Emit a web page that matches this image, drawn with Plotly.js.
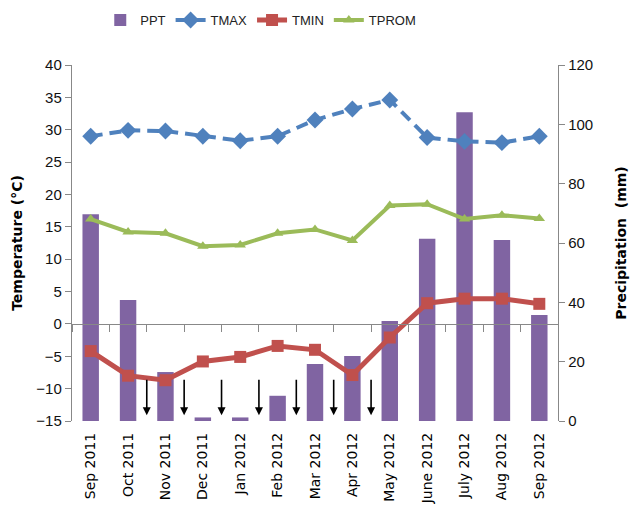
<!DOCTYPE html>
<html>
<head>
<meta charset="utf-8">
<script src="https://cdn.plot.ly/plotly-3.0.1.min.js"></script>
<style>html,body{margin:0;padding:0;background:#fff;}#chart{width:636px;height:526px;}</style>
</head>
<body>
<div id="chart"></div>
<script>
const months = ["Sep 2011","Oct 2011","Nov 2011","Dec 2011","Jan 2012","Feb 2012","Mar 2012","Apr 2012","May 2012","June 2012","July 2012","Aug 2012","Sep 2012"];
const ppt   = [69.7, 40.8, 16.5, 1.2, 1.2, 8.5, 19.2, 21.9, 33.7, 61.4, 104.1, 61.0, 35.7];
const tmax  = [29.0, 29.9, 29.8, 29.0, 28.3, 29.0, 31.5, 33.2, 34.6, 28.8, 28.2, 28.0, 29.0];
const tmin  = [-4.2, -8.0, -8.7, -5.8, -5.1, -3.4, -4.0, -7.9, -2.1, 3.2, 3.9, 3.9, 3.1];
const tprom = [16.2, 14.2, 14.0, 12.0, 12.2, 14.0, 14.6, 12.9, 18.3, 18.5, 16.2, 16.8, 16.3];
// frost arrows: positions between months (category index), start and end temperatures
const arrowX = [1.5, 2.5, 3.5, 4.5, 5.5, 6.5, 7.5];
const arrowTop = -8.4;
const arrowTip = -14.1;

const narrow = '"Liberation Sans Narrow", "Arial Narrow", "Liberation Sans", Arial, sans-serif';

const traces = [
  {type:'bar', name:'PPT', x:months, y:ppt, xaxis:'x', yaxis:'y',
   marker:{color:'#8064A2'}},
  {type:'scatter', mode:'lines+markers', name:'TMAX', x:months, y:tmax, xaxis:'x2', yaxis:'y2',
   line:{color:'#4F81BD', width:4, dash:'12px,7px'}, marker:{symbol:'diamond', size:13, color:'#4F81BD'}},
  {type:'scatter', mode:'lines+markers', name:'TMIN', x:months, y:tmin, xaxis:'x2', yaxis:'y2',
   line:{color:'#C0504D', width:5}, marker:{symbol:'square', size:12, color:'#C0504D'}},
  {type:'scatter', mode:'lines+markers', name:'TPROM', x:months, y:tprom, xaxis:'x2', yaxis:'y2',
   line:{color:'#9BBB59', width:4}, marker:{symbol:'triangle-up', size:10, color:'#9BBB59'}}
];

const annotations = arrowX.map(v => ({
  xref:'x2', yref:'y2', axref:'x2', ayref:'y2',
  x:v, y:arrowTip, ax:v, ay:arrowTop,
  showarrow:true, arrowhead:2, arrowsize:1, arrowwidth:1.6, arrowcolor:'#000', text:''
}));

const yMin = -15, yMax = 40;

const layout = {
  width:636, height:526,
  margin:{l:72, r:78, t:65, b:105, autoexpand:false},
  paper_bgcolor:'#fff', plot_bgcolor:'rgba(0,0,0,0)',
  showlegend:true,
  legend:{orientation:'h', xref:'container', yref:'container', x:0.41, xanchor:'center', y:0.962, yanchor:'middle',
          font:{family:narrow, size:13, color:'#222'}, itemwidth:30, tracegroupgap:0},
  bargap:0.56,
  xaxis:{type:'category', categoryorder:'array', categoryarray:months, range:[-0.5,12.5],
         showline:false, ticks:'', tickangle:-90, showgrid:false, zeroline:false, automargin:false,
         ticklabelstandoff:8,
         tickfont:{family:'"DejaVu Sans", Verdana, sans-serif', size:14, color:'#000'}},
  xaxis2:{type:'category', categoryorder:'array', categoryarray:months, range:[-0.5,12.5],
          overlaying:'x', anchor:'free', position:(0 - yMin)/(yMax - yMin),
          showline:true, linecolor:'#888', linewidth:1.2, ticks:'outside', tickson:'boundaries',
          ticklen:7, tickcolor:'#888', showticklabels:false, showgrid:false, zeroline:false},
  yaxis:{side:'right', range:[0,120], dtick:20, showgrid:false, zeroline:false, automargin:false,
         showline:true, linecolor:'#888', linewidth:1.2, ticks:'outside', ticklen:6, tickcolor:'#888',
         tickfont:{family:narrow, size:15, color:'#111'},
         title:{text:'Precipitation  (mm)', standoff:24,
                font:{family:'"DejaVu Sans", Verdana, sans-serif', size:14, color:'#000', weight:'bold'}}},
  yaxis2:{overlaying:'y', side:'left', range:[yMin,yMax], dtick:5, showgrid:false, zeroline:false, automargin:false,
          showline:true, linecolor:'#888', linewidth:1.2, ticks:'outside', ticklen:6, tickcolor:'#888',
          tickfont:{family:narrow, size:15, color:'#111'},
          title:{text:'Temperature (°C)', standoff:10,
                 font:{family:'"DejaVu Sans", Verdana, sans-serif', size:14, color:'#000', weight:'bold'}}},
  annotations:annotations
};

Plotly.newPlot('chart', traces, layout, {displayModeBar:false, staticPlot:true});
</script>
</body>
</html>
